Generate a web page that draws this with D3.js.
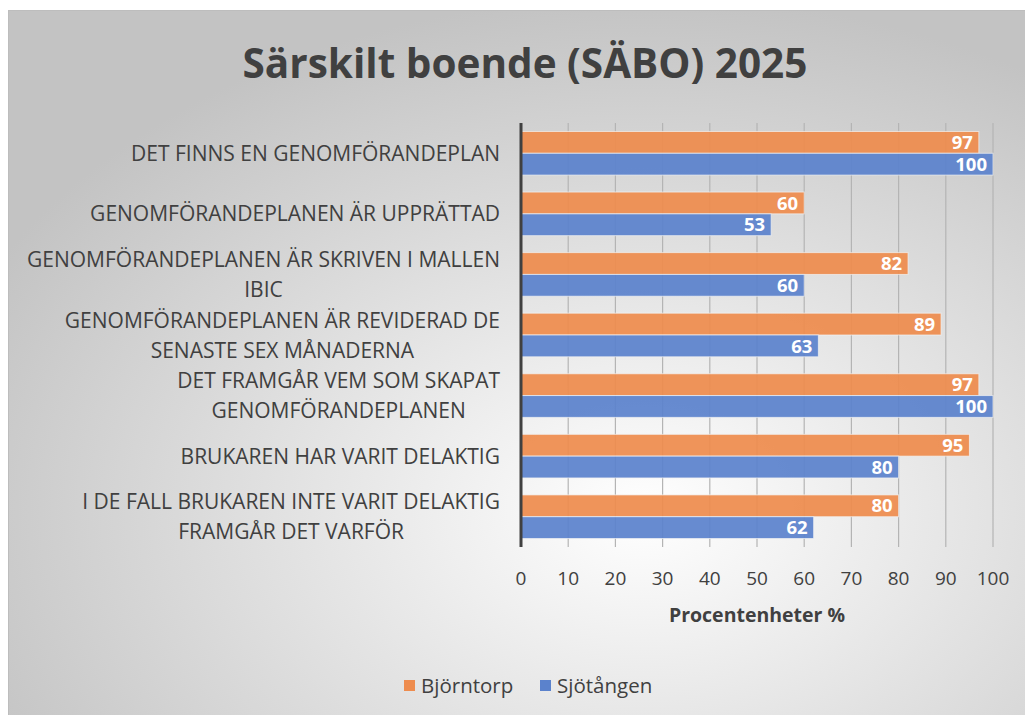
<!DOCTYPE html>
<html>
<head>
  <meta charset="utf-8">
  <title>Särskilt boende (SÄBO) 2025</title>
  <script src="https://d3js.org/d3.v7.min.js"></script>
  <style>
    body { margin: 0; background: #fff; }
    text { font-family: "Open Sans", sans-serif; }
  </style>
</head>
<body>
<script>
// data
var categories = [
  ["DET FINNS EN GENOMFÖRANDEPLAN"],
  ["GENOMFÖRANDEPLANEN ÄR UPPRÄTTAD"],
  ["GENOMFÖRANDEPLANEN ÄR SKRIVEN I MALLEN", "IBIC"],
  ["GENOMFÖRANDEPLANEN ÄR REVIDERAD DE", "SENASTE SEX MÅNADERNA"],
  ["DET FRAMGÅR VEM SOM SKAPAT", "GENOMFÖRANDEPLANEN"],
  ["BRUKAREN HAR VARIT DELAKTIG"],
  ["I DE FALL BRUKAREN INTE VARIT DELAKTIG", "FRAMGÅR DET VARFÖR"]
];
var seriesNames = ["Björntorp", "Sjötången"];
var bjorntorp = [97, 60, 82, 89, 97, 95, 80];
var sjotangen = [100, 53, 60, 63, 100, 80, 62];
var xTicks = [0, 10, 20, 30, 40, 50, 60, 70, 80, 90, 100];
var colors = ["#ee8c4e", "#5b82cc"];

var W = 1025, H = 715;
var svg = d3.select("body").append("svg").attr("width", W).attr("height", H);

// background
var defs = svg.append("defs");
var grad = defs.append("radialGradient").attr("id", "bg")
  .attr("cx", "62%").attr("cy", "70%").attr("r", "72%");
grad.append("stop").attr("offset", "0%").attr("stop-color", "#ffffff");
grad.append("stop").attr("offset", "100%").attr("stop-color", "#c3c3c3");
svg.append("rect").attr("x", 8.5).attr("y", 10.5).attr("width", W).attr("height", H)
  .attr("fill", "url(#bg)").attr("stroke", "#bdbdbd");

// title
svg.append("text").attr("x", 525).attr("y", 78).attr("text-anchor", "middle")
  .attr("font-size", 40.5).attr("font-weight", "bold").attr("fill", "#404040")
  .text("Särskilt boende (SÄBO) 2025");

var x = d3.scaleLinear().domain([0, 100]).range([521, 993]);
var y = d3.scaleBand().domain(d3.range(categories.length)).range([123, 547]).paddingInner(0.28).paddingOuter(0.14);
var sub = d3.scaleBand().domain([0, 1]).range([0, y.bandwidth()]);

// gridlines
svg.append("g").selectAll("line").data(xTicks.slice(1)).join("line")
  .attr("x1", d => x(d)).attr("x2", d => x(d))
  .attr("y1", 123).attr("y2", 547)
  .attr("stroke", "#b4b4b4").attr("stroke-width", 1.2);

// bars
var series = [bjorntorp, sjotangen];
series.forEach(function(vals, s) {
  var g = svg.append("g");
  g.selectAll("rect").data(vals).join("rect")
    .attr("x", x(0)).attr("y", (d, i) => y(i) + sub(s))
    .attr("width", d => x(d) - x(0)).attr("height", sub.bandwidth())
    .attr("fill", colors[s]).attr("fill-opacity", 0.93)
    .attr("stroke", "#f3f3f3").attr("stroke-opacity", 0.7).attr("stroke-width", 1);
  g.selectAll("text").data(vals).join("text")
    .attr("x", d => x(d) - 6).attr("y", (d, i) => y(i) + sub(s) + sub.bandwidth() / 2)
    .attr("dy", "0.36em").attr("text-anchor", "end")
    .attr("font-size", 18.5).attr("font-weight", "bold").attr("fill", "#fff")
    .text(d => d);
});

// axis line
svg.append("line").attr("x1", x(0)).attr("x2", x(0)).attr("y1", 123).attr("y2", 547)
  .attr("stroke", "#404040").attr("stroke-width", 3);

// category labels
var catG = svg.append("g");
categories.forEach(function(lines, i) {
  var cy = y(i) + y.bandwidth() / 2;
  var t = catG.append("text").attr("font-size", 21).attr("fill", "#404040").attr("text-anchor", "middle");
  lines.forEach(function(l, k) {
    t.append("tspan").attr("y", cy + (k - (lines.length - 1) / 2) * 30).attr("dy", "0.36em").text(l);
  });
  // right align block, center lines within it
  var widths = [];
  t.selectAll("tspan").each(function() { widths.push(this.getComputedTextLength()); });
  var maxW = d3.max(widths);
  t.selectAll("tspan").attr("x", 500 - maxW / 2);
});

// x tick labels
svg.append("g").selectAll("text").data(xTicks).join("text")
  .attr("x", d => x(d)).attr("y", 578).attr("dy", "0.36em").attr("text-anchor", "middle")
  .attr("font-size", 19).attr("fill", "#404040").text(d => d);

// axis title
svg.append("text").attr("x", 757).attr("y", 615).attr("dy", "0.36em").attr("text-anchor", "middle")
  .attr("font-size", 19.5).attr("font-weight", "bold").attr("fill", "#404040")
  .text("Procentenheter %");

// legend
var legX = [404, 540];
seriesNames.forEach(function(n, s) {
  svg.append("rect").attr("x", legX[s]).attr("y", 680).attr("width", 11).attr("height", 11)
    .attr("fill", colors[s]);
  svg.append("text").attr("x", legX[s] + 17).attr("y", 685.5).attr("dy", "0.36em")
    .attr("font-size", 20.5).attr("fill", "#404040").text(n);
});
</script>
</body>
</html>
